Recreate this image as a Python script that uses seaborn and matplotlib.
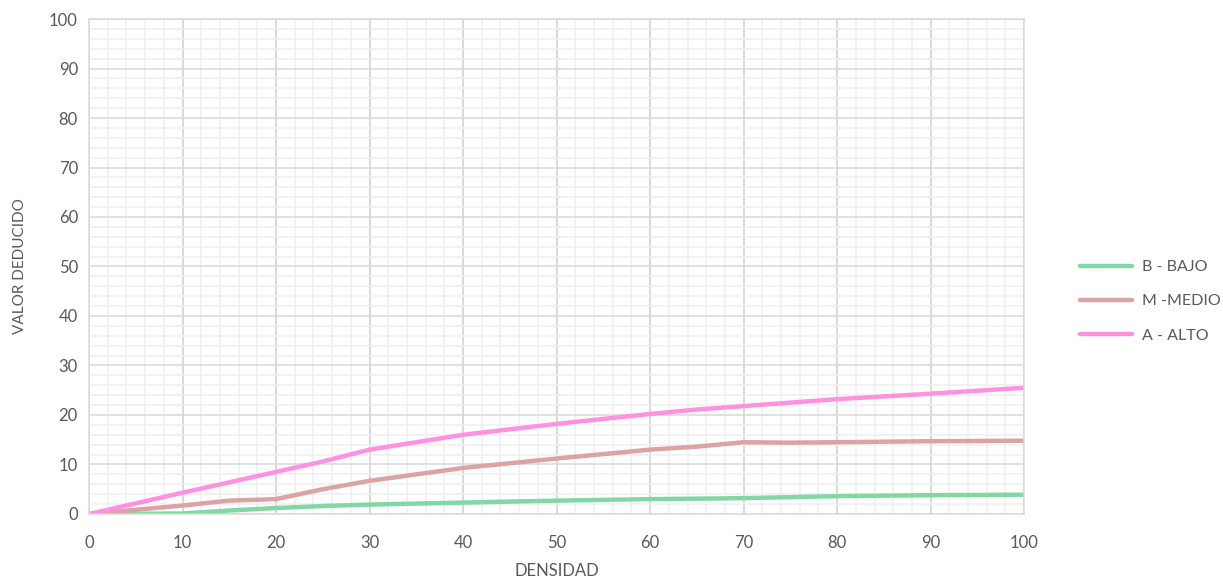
import pandas as pd
import matplotlib.pyplot as plt
import seaborn as sns
from matplotlib.ticker import MultipleLocator

# Values
densidad = [0, 10, 15, 20, 25, 30, 40, 50, 60, 65, 70, 75, 80, 90, 100]
bajo = [0, 0.1, 0.7, 1.2, 1.6, 1.9, 2.3, 2.7, 3.0, 3.1, 3.2, 3.4, 3.6, 3.8, 3.9]
medio = [0, 1.7, 2.7, 3.0, 5.0, 6.7, 9.3, 11.2, 13.0, 13.6, 14.5, 14.4, 14.5, 14.7, 14.8]
alto = [0, 4.3, 6.4, 8.5, 10.6, 13.0, 16.0, 18.2, 20.2, 21.1, 21.8, 22.5, 23.2, 24.3, 25.5]

series_names = ['B - BAJO', 'M -MEDIO', 'A - ALTO']
colors = ['#82D8A5', '#DBA3A3', '#FF92E0']

df = pd.DataFrame({'DENSIDAD': densidad, series_names[0]: bajo,
                   series_names[1]: medio, series_names[2]: alto})
long_df = df.melt(id_vars='DENSIDAD', var_name='serie', value_name='valor')

sns.set_style('white')
plt.rcParams['font.family'] = ['Lato', 'DejaVu Sans']
text_color = '#595959'

fig = plt.figure(figsize=(12.23, 5.85), dpi=100)
ax = fig.add_axes([0.0728, 0.1214, 0.7646, 0.8461])

sns.lineplot(data=long_df, x='DENSIDAD', y='valor', hue='serie',
             palette=colors, hue_order=series_names, linewidth=3.2,
             ax=ax, legend=False)

ax.set_xlim(0, 100)
ax.set_ylim(0, 100)
ax.xaxis.set_major_locator(MultipleLocator(10))
ax.yaxis.set_major_locator(MultipleLocator(10))
ax.xaxis.set_minor_locator(MultipleLocator(2))
ax.yaxis.set_minor_locator(MultipleLocator(2))
ax.grid(which='minor', color='#EFEFEF', linewidth=1.1)
ax.grid(which='major', axis='y', color='#D9D9D9', linewidth=1.1)
ax.grid(which='major', axis='x', color='#CFCFCF', linewidth=1.1)
ax.set_axisbelow(True)
for s in ax.spines.values():
    s.set_color('#D9D9D9')
    s.set_linewidth(1.1)
ax.tick_params(which='both', length=0, colors=text_color, labelsize=12)
ax.tick_params(axis='x', pad=15)
ax.tick_params(axis='y', pad=8)

ax.set_xlabel('DENSIDAD', color=text_color, fontsize=12, labelpad=9)
ax.set_ylabel('VALOR DEDUCIDO', color=text_color, fontsize=11, labelpad=16)

handles = [plt.Line2D([], [], color=c, linewidth=3.2) for c in colors]
fig.legend(handles, series_names, loc='center left', bbox_to_anchor=(0.871, 0.485),
           frameon=False, fontsize=11.5, labelcolor=text_color,
           handlelength=3.3, labelspacing=1.25, handletextpad=0.6)

fig.savefig('out.png', dpi=100)
